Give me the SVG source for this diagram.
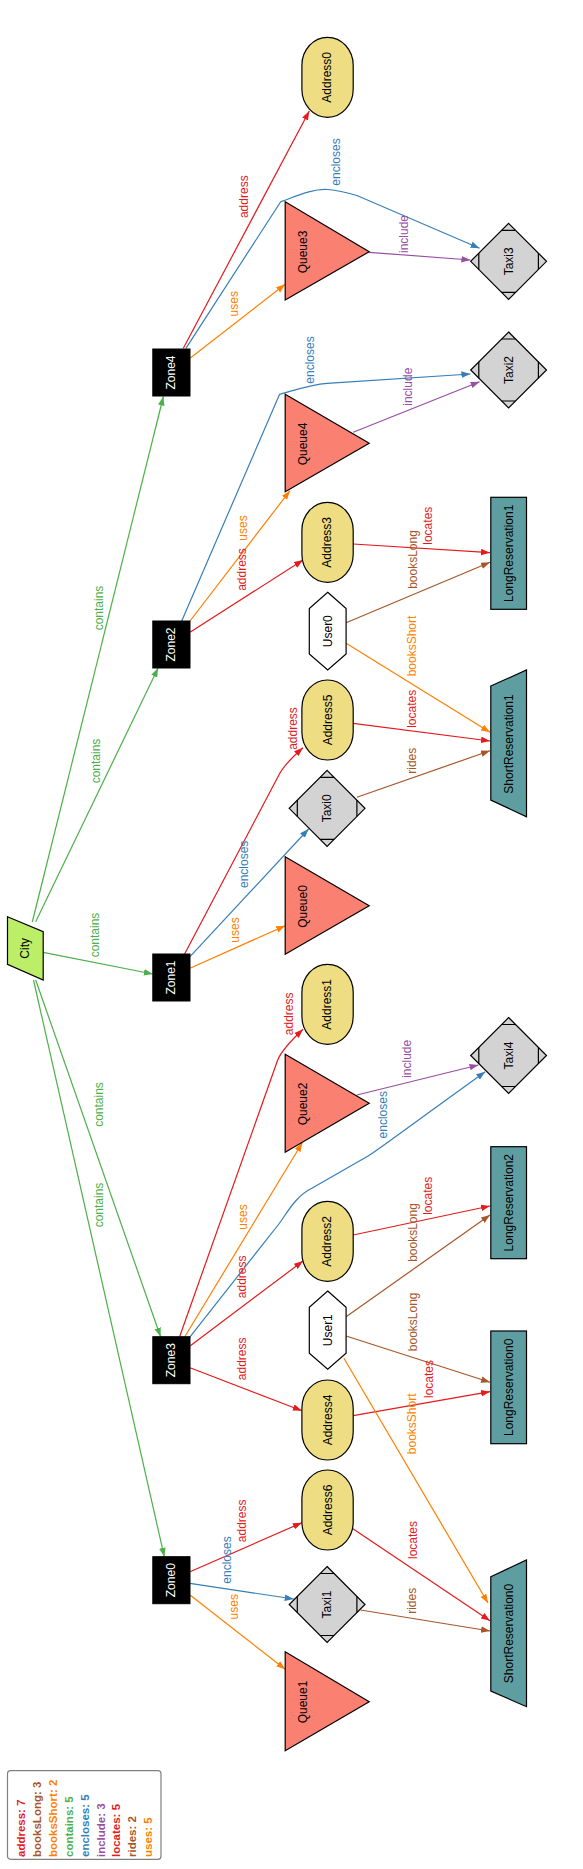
<svg xmlns="http://www.w3.org/2000/svg" width="583" height="1869" viewBox="0 0 583 1869">
<style>
text{font-family:"Liberation Sans",Arial,sans-serif;font-size:12px;text-anchor:middle;dominant-baseline:central}
.nl{fill:#000}
.zl{fill:#fff}
.e{fill:none;stroke-width:1.2}
.red{stroke:#e41a1c}.brown{stroke:#a65628}.orange{stroke:#ff7f00}.green{stroke:#4daf4a}.blue{stroke:#377eb8}.purple{stroke:#984ea3}
.tred{fill:#e41a1c}.tbrown{fill:#a65628}.torange{fill:#ff7f00}.tgreen{fill:#4daf4a}.tblue{fill:#377eb8}.tpurple{fill:#984ea3}
.zone{fill:#000;stroke:#000}
.addr{fill:#eedd82;stroke:#000;stroke-width:1.2}
.queue{fill:#fa8072;stroke:#000;stroke-width:1.2}
.taxi{fill:#d3d3d3;stroke:#000;stroke-width:1.2}
.taxi path{fill:none}
.user{fill:#fff;stroke:#000;stroke-width:1.2}
.res{fill:#5f9ea0;stroke:#000;stroke-width:1.2}
.city{fill:#bcee68;stroke:#000;stroke-width:1.2}
.leg text{font-weight:bold;font-size:11.5px;text-anchor:start}
</style>
<defs>
<marker id="m-red" markerUnits="userSpaceOnUse" markerWidth="9" markerHeight="7" refX="9" refY="3.3" orient="auto"><path d="M0,0 L9,3.3 L0,6.6 z" fill="#e41a1c"/></marker>
<marker id="m-brown" markerUnits="userSpaceOnUse" markerWidth="9" markerHeight="7" refX="9" refY="3.3" orient="auto"><path d="M0,0 L9,3.3 L0,6.6 z" fill="#a65628"/></marker>
<marker id="m-orange" markerUnits="userSpaceOnUse" markerWidth="9" markerHeight="7" refX="9" refY="3.3" orient="auto"><path d="M0,0 L9,3.3 L0,6.6 z" fill="#ff7f00"/></marker>
<marker id="m-green" markerUnits="userSpaceOnUse" markerWidth="9" markerHeight="7" refX="9" refY="3.3" orient="auto"><path d="M0,0 L9,3.3 L0,6.6 z" fill="#4daf4a"/></marker>
<marker id="m-blue" markerUnits="userSpaceOnUse" markerWidth="9" markerHeight="7" refX="9" refY="3.3" orient="auto"><path d="M0,0 L9,3.3 L0,6.6 z" fill="#377eb8"/></marker>
<marker id="m-purple" markerUnits="userSpaceOnUse" markerWidth="9" markerHeight="7" refX="9" refY="3.3" orient="auto"><path d="M0,0 L9,3.3 L0,6.6 z" fill="#984ea3"/></marker>
</defs>
<rect width="583" height="1869" fill="#fff"/>

<g id="connectors">
<!-- contains -->
<path class="e green" marker-end="url(#m-green)" d="M32.3,922 L163.4,396.5"/>
<path class="e green" marker-end="url(#m-green)" d="M35.7,921.7 L158.1,668"/>
<path class="e green" marker-end="url(#m-green)" d="M43.2,952.3 L152.8,974"/>
<path class="e green" marker-end="url(#m-green)" d="M35.7,980 L160.6,1336.7"/>
<path class="e green" marker-end="url(#m-green)" d="M33.5,980 L164.3,1556.7"/>
<!-- address -->
<path class="e red" marker-end="url(#m-red)" d="M183.3,348.3 L309.3,111"/>
<path class="e red" marker-end="url(#m-red)" d="M190,632.3 L303,560"/>
<path class="e red" marker-end="url(#m-red)" d="M184.6,954 L278.9,775 Q284.4,764 303,747.7"/>
<path class="e red" marker-end="url(#m-red)" d="M179.6,1336.7 L277.7,1060 Q282.2,1049 303,1029.3"/>
<path class="e red" marker-end="url(#m-red)" d="M190,1346 L303,1261"/>
<path class="e red" marker-end="url(#m-red)" d="M190,1367.7 L301.9,1410.7"/>
<path class="e red" marker-end="url(#m-red)" d="M190,1571.7 L301.9,1522.7"/>
<!-- locates -->
<path class="e red" marker-end="url(#m-red)" d="M353.2,544 L490,552.7"/>
<path class="e red" marker-end="url(#m-red)" d="M353.2,723.3 L490,741"/>
<path class="e red" marker-end="url(#m-red)" d="M353.2,1235 L490,1206"/>
<path class="e red" marker-end="url(#m-red)" d="M353.2,1415.7 L490,1391.7"/>
<path class="e red" marker-end="url(#m-red)" d="M351.4,1527.7 L490,1620.7"/>
<!-- uses -->
<path class="e orange" marker-end="url(#m-orange)" d="M190,358.3 L285.2,284.3"/>
<path class="e orange" marker-end="url(#m-orange)" d="M190,621 L290,490.7"/>
<path class="e orange" marker-end="url(#m-orange)" d="M190,968.3 L285.2,925.7"/>
<path class="e orange" marker-end="url(#m-orange)" d="M184.8,1336.7 L302.3,1142.7"/>
<path class="e orange" marker-end="url(#m-orange)" d="M190,1595 L285.2,1669.3"/>
<!-- booksShort -->
<path class="e orange" marker-end="url(#m-orange)" d="M346.1,643.3 L490,732.3"/>
<path class="e orange" marker-end="url(#m-orange)" d="M343.9,1358.3 L488,1603"/>
<!-- encloses -->
<path class="e blue" marker-end="url(#m-blue)" d="M185.9,348.3 L280.7,201.7 C292.2,198 312.3,188 327.9,189.5 C338,190.5 348,193 356.9,195.5 L479.6,248.3"/>
<path class="e blue" marker-end="url(#m-blue)" d="M181.7,621 L279.6,394.3 C292.2,391 310.1,384.5 327.1,383.3 L470.4,374"/>
<path class="e blue" marker-end="url(#m-blue)" d="M190,956.7 L308.6,829"/>
<path class="e blue" marker-end="url(#m-blue)" d="M189.6,1337.3 L278.9,1224 C287.8,1212 295.6,1196 312.3,1188 L368.1,1156 C379.2,1149 390.4,1140 485.2,1071.7"/>
<path class="e blue" marker-end="url(#m-blue)" d="M190,1583.3 L293.7,1599"/>
<!-- include -->
<path class="e purple" marker-end="url(#m-purple)" d="M369.2,252.3 L470.4,260"/>
<path class="e purple" marker-end="url(#m-purple)" d="M353.2,432.3 L479.6,381.7"/>
<path class="e purple" marker-end="url(#m-purple)" d="M356.9,1095 L478.5,1065"/>
<!-- booksLong / rides -->
<path class="e brown" marker-end="url(#m-brown)" d="M346.1,622.7 L490,562.3"/>
<path class="e brown" marker-end="url(#m-brown)" d="M346.1,1316.7 L490,1215"/>
<path class="e brown" marker-end="url(#m-brown)" d="M346.1,1336 L490,1382.3"/>
<path class="e brown" marker-end="url(#m-brown)" d="M356.9,797.3 L490,750.7"/>
<path class="e brown" marker-end="url(#m-brown)" d="M360.6,1610 L490,1631"/>

<!-- labels -->
<text class="tgreen" x="99.3" y="608" transform="rotate(-90 99.3 608)">contains</text>
<text class="tgreen" x="95.9" y="761" transform="rotate(-90 95.9 761)">contains</text>
<text class="tgreen" x="94.8" y="935" transform="rotate(-90 94.8 935)">contains</text>
<text class="tgreen" x="98.7" y="1104.5" transform="rotate(-90 98.7 1104.5)">contains</text>
<text class="tgreen" x="98.7" y="1205" transform="rotate(-90 98.7 1205)">contains</text>

<text class="tred" x="244.5" y="196.7" transform="rotate(-90 244.5 196.7)">address</text>
<text class="tred" x="241.5" y="569.5" transform="rotate(-90 241.5 569.5)">address</text>
<text class="tred" x="293.3" y="728.5" transform="rotate(-90 293.3 728.5)">address</text>
<text class="tred" x="288.9" y="1013.8" transform="rotate(-90 288.9 1013.8)">address</text>
<text class="tred" x="241.8" y="1276.8" transform="rotate(-90 241.8 1276.8)">address</text>
<text class="tred" x="241.8" y="1358.8" transform="rotate(-90 241.8 1358.8)">address</text>
<text class="tred" x="241.8" y="1520.8" transform="rotate(-90 241.8 1520.8)">address</text>

<text class="torange" x="234.2" y="303.7" transform="rotate(-90 234.2 303.7)">uses</text>
<text class="torange" x="242.6" y="528" transform="rotate(-90 242.6 528)">uses</text>
<text class="torange" x="234.5" y="930" transform="rotate(-90 234.5 930)">uses</text>
<text class="torange" x="242.6" y="1217" transform="rotate(-90 242.6 1217)">uses</text>
<text class="torange" x="234.5" y="1606.7" transform="rotate(-90 234.5 1606.7)">uses</text>

<text class="tblue" x="335.5" y="162" transform="rotate(-90 335.5 162)">encloses</text>
<text class="tblue" x="310.1" y="360" transform="rotate(-90 310.1 360)">encloses</text>
<text class="tblue" x="243.7" y="864.3" transform="rotate(-90 243.7 864.3)">encloses</text>
<text class="tblue" x="382.8" y="1114.7" transform="rotate(-90 382.8 1114.7)">encloses</text>
<text class="tblue" x="226.6" y="1560" transform="rotate(-90 226.6 1560)">encloses</text>

<text class="tpurple" x="404.3" y="234" transform="rotate(-90 404.3 234)">include</text>
<text class="tpurple" x="408" y="386.7" transform="rotate(-90 408 386.7)">include</text>
<text class="tpurple" x="406.6" y="1058.8" transform="rotate(-90 406.6 1058.8)">include</text>

<text class="tred" x="428.5" y="525.7" transform="rotate(-90 428.5 525.7)">locates</text>
<text class="tred" x="412.5" y="708.8" transform="rotate(-90 412.5 708.8)">locates</text>
<text class="tred" x="428.5" y="1195.8" transform="rotate(-90 428.5 1195.8)">locates</text>
<text class="tred" x="428.5" y="1379" transform="rotate(-90 428.5 1379)">locates</text>
<text class="tred" x="412.5" y="1540" transform="rotate(-90 412.5 1540)">locates</text>

<text class="tbrown" x="412.7" y="559.5" transform="rotate(-90 412.7 559.5)">booksLong</text>
<text class="tbrown" x="412.7" y="1232.5" transform="rotate(-90 412.7 1232.5)">booksLong</text>
<text class="tbrown" x="412.7" y="1321.8" transform="rotate(-90 412.7 1321.8)">booksLong</text>

<text class="torange" x="412.1" y="646" transform="rotate(-90 412.1 646)">booksShort</text>
<text class="torange" x="412.1" y="1423.8" transform="rotate(-90 412.1 1423.8)">booksShort</text>

<text class="tbrown" x="412.5" y="760.7" transform="rotate(-90 412.5 760.7)">rides</text>
<text class="tbrown" x="412.5" y="1600.8" transform="rotate(-90 412.5 1600.8)">rides</text>
</g>

<g id="City"><polygon class="city" points="7.5,916.7 43.2,931.7 43.2,980 7.5,964.3"/><text class="nl" x="25.3" y="948.3" transform="rotate(-90 25.3 948.3)">City</text></g>

<g id="Zone4"><rect class="zone" x="152.8" y="349" width="37.2" height="47"/><text class="zl" x="171.4" y="372.5" transform="rotate(-90 171.4 372.5)">Zone4</text></g>
<g id="Zone2"><rect class="zone" x="152.8" y="621" width="37.2" height="47"/><text class="zl" x="171.4" y="644.5" transform="rotate(-90 171.4 644.5)">Zone2</text></g>
<g id="Zone1"><rect class="zone" x="152.8" y="954" width="37.2" height="47"/><text class="zl" x="171.4" y="977.5" transform="rotate(-90 171.4 977.5)">Zone1</text></g>
<g id="Zone3"><rect class="zone" x="152.8" y="1336.7" width="37.2" height="47"/><text class="zl" x="171.4" y="1360.2" transform="rotate(-90 171.4 1360.2)">Zone3</text></g>
<g id="Zone0"><rect class="zone" x="152.8" y="1556.7" width="37.2" height="47"/><text class="zl" x="171.4" y="1580.2" transform="rotate(-90 171.4 1580.2)">Zone0</text></g>

<g id="Address0"><rect class="addr" x="301.9" y="37.3" width="51.3" height="80" rx="25.6" ry="28"/><text class="nl" x="327.5" y="77.3" transform="rotate(-90 327.5 77.3)">Address0</text></g>
<g id="Address3"><rect class="addr" x="301.9" y="502.3" width="51.3" height="80" rx="25.6" ry="28"/><text class="nl" x="327.5" y="542.3" transform="rotate(-90 327.5 542.3)">Address3</text></g>
<g id="Address5"><rect class="addr" x="301.9" y="680" width="51.3" height="80" rx="25.6" ry="28"/><text class="nl" x="327.5" y="720" transform="rotate(-90 327.5 720)">Address5</text></g>
<g id="Address1"><rect class="addr" x="301.9" y="964.3" width="51.3" height="80" rx="25.6" ry="28"/><text class="nl" x="327.5" y="1004.3" transform="rotate(-90 327.5 1004.3)">Address1</text></g>
<g id="Address2"><rect class="addr" x="301.9" y="1201.3" width="51.3" height="80" rx="25.6" ry="28"/><text class="nl" x="327.5" y="1241.3" transform="rotate(-90 327.5 1241.3)">Address2</text></g>
<g id="Address4"><rect class="addr" x="301.9" y="1380" width="51.3" height="80" rx="25.6" ry="28"/><text class="nl" x="327.5" y="1420" transform="rotate(-90 327.5 1420)">Address4</text></g>
<g id="Address6"><rect class="addr" x="301.9" y="1470" width="51.3" height="80" rx="25.6" ry="28"/><text class="nl" x="327.5" y="1510" transform="rotate(-90 327.5 1510)">Address6</text></g>

<g id="Queue3"><polygon class="queue" points="285.2,201.7 285.2,300 369.2,251.7"/><text class="nl" x="303.4" y="252" transform="rotate(-90 303.4 252)">Queue3</text></g>
<g id="Queue4"><polygon class="queue" points="285.2,394.3 285.2,491.7 369.2,443.3"/><text class="nl" x="303.4" y="444" transform="rotate(-90 303.4 444)">Queue4</text></g>
<g id="Queue0"><polygon class="queue" points="285.2,856.7 285.2,954.3 369.2,905.7"/><text class="nl" x="303.4" y="906.5" transform="rotate(-90 303.4 906.5)">Queue0</text></g>
<g id="Queue2"><polygon class="queue" points="285.2,1054.3 285.2,1152.3 369.2,1103.3"/><text class="nl" x="303.4" y="1104" transform="rotate(-90 303.4 1104)">Queue2</text></g>
<g id="Queue1"><polygon class="queue" points="285.2,1651.7 285.2,1750.7 369.2,1701.7"/><text class="nl" x="303.4" y="1702" transform="rotate(-90 303.4 1702)">Queue1</text></g>

<g id="Taxi3" class="taxi"><polygon points="508.6,223.3 546.5,261.3 508.6,299.3 470.7,261.3"/><path d="M501.6,230.3 H515.6 M501.6,292.3 H515.6 M478.8,253.1 V269.5 M538.4,253.1 V269.5"/><text class="nl" stroke="none" x="508.6" y="261.3" transform="rotate(-90 508.6 261.3)">Taxi3</text></g>
<g id="Taxi2" class="taxi"><polygon points="508.6,332 546.5,370 508.6,408 470.7,370"/><path d="M501.6,339 H515.6 M501.6,401 H515.6 M478.8,361.8 V378.2 M538.4,361.8 V378.2"/><text class="nl" stroke="none" x="508.6" y="370" transform="rotate(-90 508.6 370)">Taxi2</text></g>
<g id="Taxi4" class="taxi"><polygon points="508.6,1017.5 546.5,1055.5 508.6,1093.5 470.7,1055.5"/><path d="M501.6,1024.5 H515.6 M501.6,1086.5 H515.6 M478.8,1047.3 V1063.7 M538.4,1047.3 V1063.7"/><text class="nl" stroke="none" x="508.6" y="1055.5" transform="rotate(-90 508.6 1055.5)">Taxi4</text></g>
<g id="Taxi0" class="taxi"><polygon points="327.1,770.3 365,808.3 327.1,846.3 289.2,808.3"/><path d="M320.1,777.3 H334.1 M320.1,839.3 H334.1 M297.3,800.1 V816.5 M356.9,800.1 V816.5"/><text class="nl" stroke="none" x="327.1" y="808.3" transform="rotate(-90 327.1 808.3)">Taxi0</text></g>
<g id="Taxi1" class="taxi"><polygon points="327.1,1566.5 365,1604.5 327.1,1642.5 289.2,1604.5"/><path d="M320.1,1573.5 H334.1 M320.1,1635.5 H334.1 M297.3,1596.3 V1612.7 M356.9,1596.3 V1612.7"/><text class="nl" stroke="none" x="327.1" y="1604.5" transform="rotate(-90 327.1 1604.5)">Taxi1</text></g>

<g id="User0"><polygon class="user" points="327.7,592.3 346.1,608.5 346.1,654 327.7,670 309.3,654 309.3,608.5"/><text class="nl" x="327.7" y="631.2" transform="rotate(-90 327.7 631.2)">User0</text></g>
<g id="User1"><polygon class="user" points="327.7,1291 346.1,1307.2 346.1,1353.2 327.7,1369.3 309.3,1353.2 309.3,1307.2"/><text class="nl" x="327.7" y="1330.2" transform="rotate(-90 327.7 1330.2)">User1</text></g>

<g id="LongReservation1"><rect class="res" x="490.8" y="497.3" width="35.7" height="112"/><text class="nl" x="508.6" y="553.3" transform="rotate(-90 508.6 553.3)">LongReservation1</text></g>
<g id="LongReservation2"><rect class="res" x="490.8" y="1146.7" width="35.7" height="112"/><text class="nl" x="508.6" y="1202.7" transform="rotate(-90 508.6 1202.7)">LongReservation2</text></g>
<g id="LongReservation0"><rect class="res" x="490.8" y="1331" width="35.7" height="112.7"/><text class="nl" x="508.6" y="1387.3" transform="rotate(-90 508.6 1387.3)">LongReservation0</text></g>
<g id="ShortReservation1"><polygon class="res" points="490.8,686 526.5,670 526.5,816.7 490.8,800"/><text class="nl" x="508.6" y="744" transform="rotate(-90 508.6 744)">ShortReservation1</text></g>
<g id="ShortReservation0"><polygon class="res" points="490.8,1576.7 526.5,1560 526.5,1706.7 490.8,1691"/><text class="nl" x="508.6" y="1633.5" transform="rotate(-90 508.6 1633.5)">ShortReservation0</text></g>

<g id="legend" class="leg">
<rect x="7.5" y="1770.7" width="153.5" height="88.6" rx="3" fill="#fff" stroke="#808080" stroke-width="1.2"/>
<text class="tred" x="21.2" y="1857" transform="rotate(-90 21.2 1857)">address: 7</text>
<text class="tbrown" x="37.1" y="1857" transform="rotate(-90 37.1 1857)">booksLong: 3</text>
<text class="torange" x="53" y="1857" transform="rotate(-90 53 1857)">booksShort: 2</text>
<text class="tgreen" x="68.9" y="1857" transform="rotate(-90 68.9 1857)">contains: 5</text>
<text class="tblue" x="84.8" y="1857" transform="rotate(-90 84.8 1857)">encloses: 5</text>
<text class="tpurple" x="100.6" y="1857" transform="rotate(-90 100.6 1857)">include: 3</text>
<text class="tred" x="116.4" y="1857" transform="rotate(-90 116.4 1857)">locates: 5</text>
<text class="tbrown" x="132.3" y="1857" transform="rotate(-90 132.3 1857)">rides: 2</text>
<text class="torange" x="148.1" y="1857" transform="rotate(-90 148.1 1857)">uses: 5</text>
</g>
</svg>
